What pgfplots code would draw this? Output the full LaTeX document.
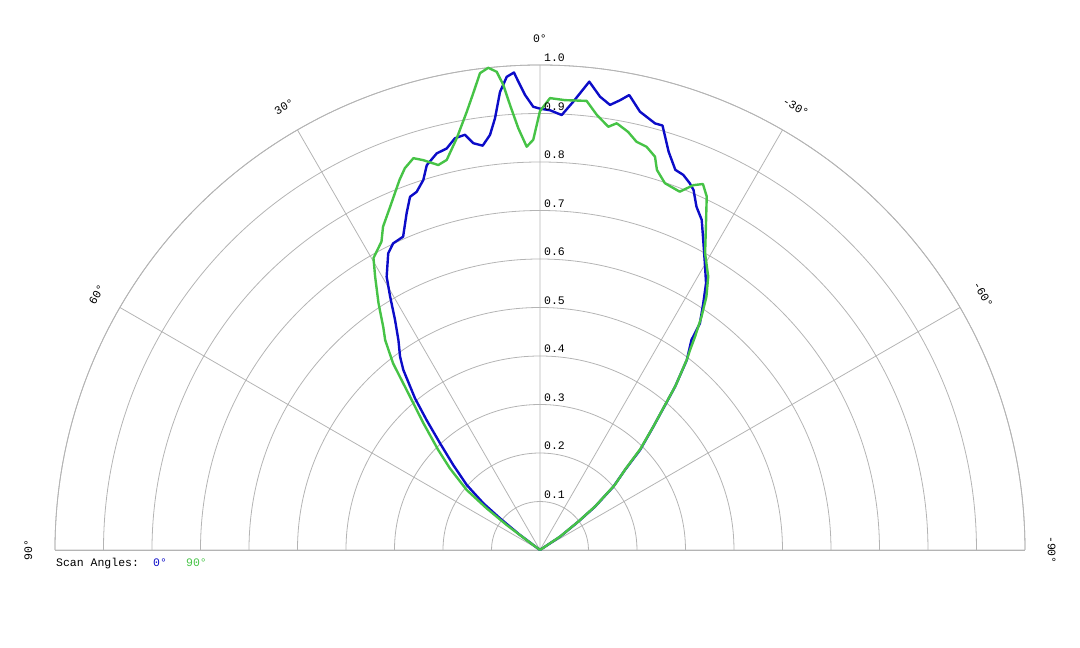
\documentclass[border=0pt]{standalone}
\usepackage{pgfplots}
\pgfplotsset{compat=1.18}
\usepgfplotslibrary{polar}
\usepackage{fontspec}
\setmainfont{Liberation Mono}
\setmonofont{Liberation Mono}
\definecolor{cblue}{RGB}{12,12,200}
\definecolor{cgreen}{RGB}{70,195,70}
\definecolor{cgrid}{RGB}{180,180,180}
\begin{document}
\begin{tikzpicture}
\useasboundingbox (-540pt,-98pt) rectangle (540pt,550pt);
\begin{polaraxis}[
 at={(0pt,0pt)}, anchor=origin,
 scale only axis, width=970pt, height=970pt,
 xmin=0, xmax=180, ymin=0, ymax=1,
 xtick={0,30,...,180}, ytick={0.1,0.2,0.3,0.4,0.5,0.6,0.7,0.8,0.9,1.0},
 xticklabels={}, yticklabels={},
 major tick length=0pt,
 grid=major, major grid style={cgrid, line width=0.8pt},
 axis line style={cgrid, line width=0.8pt},
 clip=false,
 font=\fontsize{11.5}{13}\selectfont,
]
\addplot[cblue, line width=2.4pt, line join=round] coordinates {
(33,0) (33.6,0.050) (36.5,0.098) (38.2,0.144) (40.8,0.200) (43.3,0.241) (45.0,0.292)
(47.4,0.345) (49.2,0.395) (50.4,0.437) (52.3,0.495) (54.2,0.534) (54.8,0.572)
(56.5,0.610) (58.1,0.648) (60.1,0.682) (62.5,0.728) (63.9,0.758) (65.5,0.778)
(66.9,0.807) (67.8,0.817) (69.1,0.828) (70.4,0.832) (72.1,0.863) (73.9,0.911)
(74.9,0.911) (77.15,0.927) (78.9,0.956) (79.9,0.942) (81.06,0.929) (82.46,0.943)
(83.99,0.971) (85.75,0.927) (87.14,0.898) (88.7,0.907) (90,0.910) (90.87,0.914)
(91.89,0.939) (92.65,0.967) (93.12,0.986) (94.02,0.978) (94.99,0.948) (95.95,0.895)
(96.87,0.862) (98.07,0.842) (99.31,0.850) (100.24,0.870) (101.67,0.867) (103.08,0.850)
(104.6,0.845) (106.4,0.827) (107.5,0.800) (109.0,0.781) (110.2,0.776) (111.6,0.747)
(113.6,0.705) (115.6,0.701) (117.1,0.687) (119.3,0.646) (120.6,0.607) (122.2,0.561)
(124.0,0.522) (125.9,0.492) (127.2,0.466) (129.5,0.405) (131.1,0.356) (133.1,0.302)
(135.6,0.250) (138.4,0.202) (140.5,0.151) (141.6,0.105) (143.1,0.052) (145,0)
};
\addplot[cgreen, line width=2.4pt, line join=round] coordinates {
(33,0) (33.8,0.050) (36.6,0.099) (38.4,0.146) (41.0,0.204) (43.5,0.244) (45.2,0.294)
(47.5,0.347) (49.3,0.397) (50.5,0.440) (52.4,0.497) (53.1,0.515) (54.0,0.544)
(55.3,0.585) (56.7,0.625) (58.4,0.662) (60.9,0.700) (62.6,0.743) (64.75,0.806)
(66.0,0.826) (67.2,0.816) (68.7,0.793) (71.2,0.799) (72.9,0.820) (73.7,0.845)
(75.2,0.860) (76.7,0.865) (78.1,0.881) (79.8,0.894) (80.83,0.884) (82.57,0.905)
(84.07,0.931) (86.82,0.929) (88.73,0.932) (90,0.905) (90.94,0.846) (91.89,0.832)
(92.95,0.871) (93.86,0.920) (94.51,0.962) (95.17,0.990) (96.12,1.000) (97.17,0.991)
(98.31,0.952) (99.49,0.916) (101.44,0.866) (103.45,0.827) (104.8,0.821) (106.66,0.839)
(107.9,0.849) (109.5,0.835) (110.8,0.816) (113.6,0.772) (115.9,0.741) (117.2,0.715)
(119.7,0.693) (121.1,0.658) (123.2,0.608) (125.1,0.562) (126.4,0.538) (128.2,0.490)
(130.3,0.414) (132.6,0.355) (135.5,0.294) (137.8,0.251) (140.7,0.195) (142.0,0.140)
(143.1,0.086) (143.5,0.034) (145,0)
};
% angle labels
\node[rotate=-90] at (axis cs:0,1.055) {-90°};
\node[rotate=-60] at (axis cs:30,1.055) {-60°};
\node[rotate=-30] at (axis cs:60,1.055) {-30°};
\node at (axis cs:90,1.055) {0°};
\node[rotate=30] at (axis cs:120,1.055) {30°};
\node[rotate=60] at (axis cs:150,1.055) {60°};
\node[rotate=90] at (axis cs:180,1.055) {90°};
% radial labels
\pgfplotsinvokeforeach{1,...,9}{
 \node[anchor=base west, inner sep=0pt, xshift=4pt, yshift=3pt] at (axis cs:90,0.#1) {0.#1};
}
\node[anchor=base west, inner sep=0pt, xshift=4pt, yshift=3pt] at (axis cs:90,1.0) {1.0};
% legend
\node[anchor=base west, inner sep=0pt, xshift=1pt, yshift=-17pt] at (axis cs:180,1) {Scan Angles:};
\node[anchor=base west, inner sep=0pt, xshift=98pt, yshift=-17pt, text=cblue] at (axis cs:180,1) {0°};
\node[anchor=base west, inner sep=0pt, xshift=131pt, yshift=-17pt, text=cgreen] at (axis cs:180,1) {90°};
\end{polaraxis}
\end{tikzpicture}
\end{document}
